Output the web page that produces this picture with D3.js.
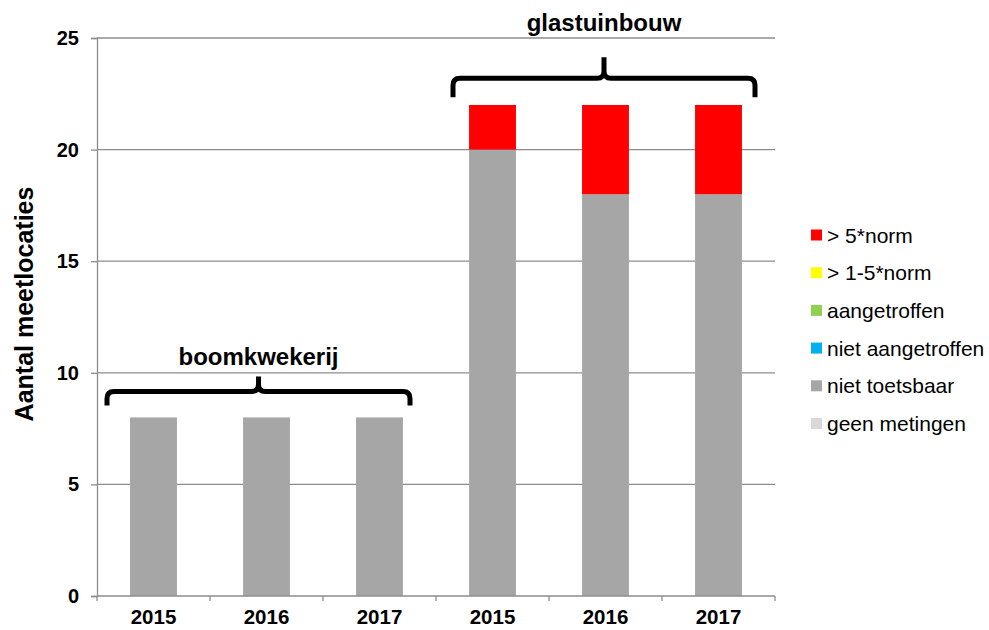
<!DOCTYPE html>
<html><head><meta charset="utf-8">
<script src="https://cdn.jsdelivr.net/npm/d3@7"></script>
<style>body{margin:0;background:#fff;} svg{display:block;font-family:"Liberation Sans",Arial,sans-serif;}</style>
</head><body>
<svg id="chart" width="989" height="630"></svg>
<script>
const groups = ["boomkwekerij","boomkwekerij","boomkwekerij","glastuinbouw","glastuinbouw","glastuinbouw"];
const years = ["2015","2016","2017","2015","2016","2017"];
const seriesNames = ["geen metingen","niet toetsbaar","niet aangetroffen","aangetroffen","> 1-5*norm","> 5*norm"];
const seriesColors = ["#D9D9D9","#A6A6A6","#00B0F0","#92D050","#FFFF00","#FF0000"];
const geenMetingen = [0,0,0,0,0,0];
const nietToetsbaar = [8,8,8,20,18,18];
const nietAangetroffen = [0,0,0,0,0,0];
const aangetroffen = [0,0,0,0,0,0];
const norm1to5 = [0,0,0,0,0,0];
const norm5 = [0,0,0,2,4,4];
const yTicks = [0,5,10,15,20,25];
const groupLabels = ["boomkwekerij","glastuinbouw"];

(function(){
const seriesValues = [geenMetingen,nietToetsbaar,nietAangetroffen,aangetroffen,norm1to5,norm5];
const keys = years.map((y,i)=>i);
const rows = keys.map(i=>{const o={i}; seriesNames.forEach((s,j)=>o[s]=seriesValues[j][i]); return o;});
const stack = d3.stack().keys(seriesNames)(rows);

const svg = d3.select("#chart");
const pL=97,pR=775,pT=38,pB=596;
const x = d3.scaleBand().domain(keys).range([pL,pR]).padding(0);
const y = d3.scaleLinear().domain([0,25]).range([pB,pT]);
const barW = x.bandwidth()*0.415;
const axisColor = "#8c8c8c";

// gridlines
svg.append("g").selectAll("line").data(yTicks.filter(t=>t>0)).join("line")
  .attr("x1",pL).attr("x2",pR).attr("y1",d=>y(d)).attr("y2",d=>y(d))
  .attr("stroke",axisColor).attr("stroke-width",1.3);

// y axis
const yAxis = svg.append("g").attr("transform",`translate(${pL},0)`)
  .call(d3.axisLeft(y).tickValues(yTicks).tickSize(6).tickPadding(12).tickFormat(d3.format("d")));
yAxis.select(".domain").attr("stroke",axisColor).attr("stroke-width",1.3);
yAxis.selectAll(".tick line").attr("stroke",axisColor).attr("stroke-width",1.3);
yAxis.selectAll("text").attr("font-size",20).attr("font-weight","bold").attr("fill","#000").attr("font-family","Liberation Sans, Arial, sans-serif");

// bars
svg.append("g").selectAll("g").data(stack).join("g")
  .attr("fill",(d,j)=>seriesColors[j])
  .selectAll("rect").data(d=>d).join("rect")
  .attr("x",d=>x(d.data.i)+(x.bandwidth()-barW)/2)
  .attr("width",barW)
  .attr("y",d=>y(d[1]))
  .attr("height",d=>y(d[0])-y(d[1]));

// x axis
const xAxisG = svg.append("g").attr("transform",`translate(0,${pB})`);
xAxisG.append("line").attr("x1",pL).attr("x2",pR).attr("stroke",axisColor).attr("stroke-width",1.3);
const bounds = keys.map(k=>x(k)).concat([pR]);
xAxisG.selectAll("line.t").data(bounds).join("line").attr("class","t")
  .attr("x1",d=>d).attr("x2",d=>d).attr("y1",0).attr("y2",5).attr("stroke",axisColor).attr("stroke-width",1.3);
xAxisG.selectAll("text").data(keys).join("text")
  .attr("x",d=>x(d)+x.bandwidth()/2).attr("y",28)
  .attr("text-anchor","middle").attr("font-size",20.5).attr("font-weight","bold").text(d=>years[d]);

// y title
svg.append("text").attr("transform",`translate(33,${304}) rotate(-90)`)
  .attr("text-anchor","middle").attr("font-size",25).attr("font-weight","bold").text("Aantal meetlocaties");

// braces
function brace(x1,x2,yl,d,h,r){
  const xm=(x1+x2)/2;
  return `M${x1},${yl+d} L${x1},${yl+r} Q${x1},${yl} ${x1+r},${yl} L${xm-r},${yl} Q${xm},${yl} ${xm},${yl-r} L${xm},${yl-h} M${xm},${yl-r} Q${xm},${yl} ${xm+r},${yl} L${x2-r},${yl} Q${x2},${yl} ${x2},${yl+r} L${x2},${yl+d}`;
}
const braceDefs = [
  {label:groupLabels[0], from:0, to:2, level:9.16, offL:10, offR:26, d:14, h:15, labelY:365},
  {label:groupLabels[1], from:3, to:5, level:23.2, offL:17, offR:20, d:19, h:21, labelY:31}
];
braceDefs.forEach(b=>{
  const x1 = x(b.from)+b.offL, x2 = x(b.to)+x.bandwidth()-b.offR;
  const yl = y(b.level);
  svg.append("path").attr("d",brace(x1,x2,yl,b.d,b.h,7))
    .attr("fill","none").attr("stroke","#000").attr("stroke-width",5).attr("stroke-linecap","butt");
  svg.append("text").attr("x",(x1+x2)/2).attr("y",b.labelY).attr("text-anchor","middle")
    .attr("font-size",24).attr("font-weight","bold").text(b.label);
});

// legend
const legendOrder = seriesNames.map((s,j)=>j).reverse();
const lg = svg.append("g");
legendOrder.forEach((j,k)=>{
  const cy = 235 + k*37.7;
  lg.append("rect").attr("x",811).attr("y",cy-5.5).attr("width",11).attr("height",11).attr("fill",seriesColors[j]);
  lg.append("text").attr("x",827).attr("y",cy+7.5).attr("font-size",21).text(seriesNames[j]);
});
})();
</script>
</body></html>
